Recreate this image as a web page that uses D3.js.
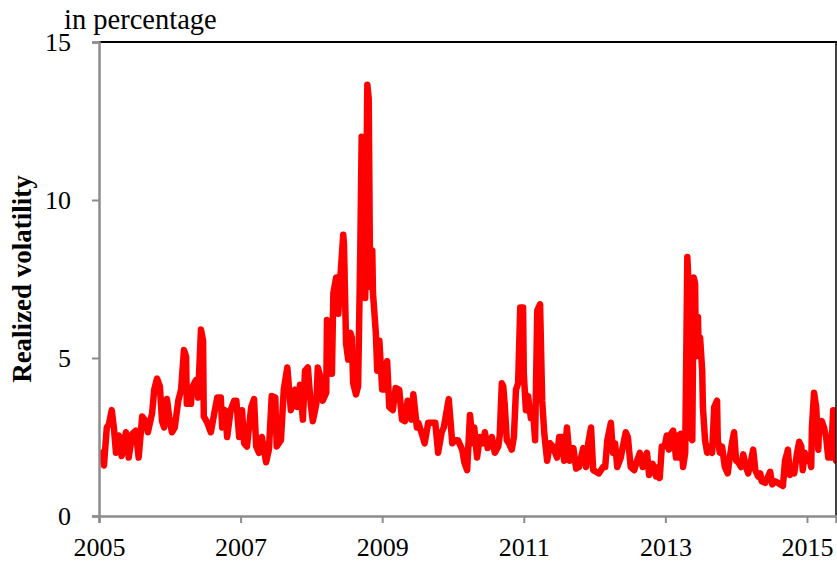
<!DOCTYPE html>
<html>
<head>
<meta charset="utf-8">
<script src="https://cdn.jsdelivr.net/npm/d3@7"></script>
<style>
  html, body { margin: 0; padding: 0; background: #fff; }
  svg { display: block; }
  text { font-family: "Liberation Serif", "Times New Roman", serif; fill: #000; }
</style>
</head>
<body>
<svg id="chart" width="837" height="563"></svg>
<script>
// Realized volatility, in percent, sampled on decimal-year dates
const dates = [
  2005.04, 2005.07, 2005.11, 2005.14, 2005.18, 2005.21, 2005.24, 2005.28, 2005.32, 2005.38,
  2005.42, 2005.47, 2005.52, 2005.56, 2005.61, 2005.66, 2005.69, 2005.75, 2005.78, 2005.82,
  2005.86, 2005.89, 2005.92, 2005.96, 2005.99, 2006.03, 2006.07, 2006.12, 2006.16, 2006.20,
  2006.23, 2006.24, 2006.30, 2006.31, 2006.37, 2006.40, 2006.44, 2006.47, 2006.48, 2006.53,
  2006.58, 2006.62, 2006.67, 2006.72, 2006.74, 2006.78, 2006.81, 2006.86, 2006.91, 2006.94,
  2006.98, 2007.02, 2007.05, 2007.09, 2007.15, 2007.19, 2007.22, 2007.26, 2007.30, 2007.36,
  2007.40, 2007.44, 2007.49, 2007.51, 2007.57, 2007.61, 2007.66, 2007.71, 2007.77, 2007.80,
  2007.84, 2007.88, 2007.91, 2007.95, 2007.99, 2008.02, 2008.07, 2008.09, 2008.14, 2008.16,
  2008.21, 2008.22, 2008.25, 2008.29, 2008.31, 2008.35, 2008.38, 2008.40, 2008.45, 2008.46,
  2008.49, 2008.52, 2008.55, 2008.57, 2008.59, 2008.63, 2008.66, 2008.69, 2008.71, 2008.73,
  2008.76, 2008.79, 2008.81, 2008.83, 2008.86, 2008.87, 2008.91, 2008.93, 2008.96, 2009.00,
  2009.03, 2009.07, 2009.10, 2009.15, 2009.19, 2009.24, 2009.28, 2009.32, 2009.36, 2009.41,
  2009.44, 2009.49, 2009.51, 2009.56, 2009.60, 2009.65, 2009.70, 2009.75, 2009.79, 2009.84,
  2009.87, 2009.92, 2009.94, 2009.99, 2010.03, 2010.07, 2010.13, 2010.16, 2010.20, 2010.24,
  2010.28, 2010.30, 2010.34, 2010.38, 2010.42, 2010.45, 2010.49, 2010.55, 2010.59, 2010.64,
  2010.66, 2010.69, 2010.71, 2010.73, 2010.76, 2010.79, 2010.83, 2010.86, 2010.89, 2010.92,
  2010.95, 2010.99, 2011.00, 2011.03, 2011.06, 2011.10, 2011.13, 2011.16, 2011.19, 2011.23,
  2011.26, 2011.29, 2011.33, 2011.37, 2011.41, 2011.47, 2011.50, 2011.54, 2011.57, 2011.61,
  2011.65, 2011.70, 2011.74, 2011.78, 2011.84, 2011.88, 2011.91, 2011.95, 2011.98, 2012.02,
  2012.06, 2012.12, 2012.15, 2012.18, 2012.23, 2012.26, 2012.29, 2012.32, 2012.37, 2012.40,
  2012.44, 2012.47, 2012.51, 2012.56, 2012.60, 2012.64, 2012.68, 2012.74, 2012.77, 2012.82,
  2012.87, 2012.90, 2012.92, 2012.95, 2012.99, 2013.02, 2013.05, 2013.08, 2013.11, 2013.15,
  2013.18, 2013.19, 2013.22, 2013.25, 2013.28, 2013.31, 2013.32, 2013.35, 2013.38, 2013.40,
  2013.42, 2013.43, 2013.46, 2013.47, 2013.49, 2013.52, 2013.53, 2013.56, 2013.59, 2013.63,
  2013.66, 2013.69, 2013.73, 2013.74, 2013.77, 2013.80, 2013.84, 2013.88, 2013.91, 2013.94,
  2013.97, 2014.00, 2014.03, 2014.07, 2014.10, 2014.14, 2014.17, 2014.21, 2014.24, 2014.27,
  2014.31, 2014.34, 2014.36, 2014.41, 2014.45, 2014.48, 2014.51, 2014.55, 2014.59, 2014.62,
  2014.66, 2014.69, 2014.72, 2014.73, 2014.76, 2014.79, 2014.82, 2014.86, 2014.89, 2014.92,
  2014.94, 2014.97, 2015.00, 2015.03, 2015.06, 2015.07, 2015.10, 2015.13, 2015.16, 2015.17,
  2015.21, 2015.24, 2015.27, 2015.30, 2015.33, 2015.34, 2015.37, 2015.38, 2015.41
];

const volatility = [
  2.0, 1.6, 2.8, 2.9, 3.35, 2.8, 2.0, 2.55, 1.9, 2.65,
  1.85, 2.6, 2.7, 1.85, 3.15, 3.0, 2.65, 3.25, 4.0, 4.35,
  4.1, 3.0, 2.8, 3.7, 3.15, 2.65, 2.8, 3.65, 4.0, 5.25,
  5.05, 3.55, 3.55, 4.05, 4.3, 3.75, 5.9, 5.55, 3.15, 2.95,
  2.65, 3.15, 3.75, 3.75, 2.8, 3.35, 2.5, 3.35, 3.65, 3.65,
  2.5, 3.35, 2.3, 2.2, 3.45, 3.7, 2.2, 2.0, 2.5, 1.7,
  2.1, 3.8, 3.75, 2.2, 2.4, 4.0, 4.7, 3.35, 4.0, 3.45,
  4.15, 3.05, 4.6, 4.7, 3.55, 3.0, 3.55, 4.7, 4.3, 3.65,
  3.9, 6.2, 6.1, 4.5, 7.05, 7.55, 6.4, 7.25, 8.9, 8.6,
  5.45, 4.95, 5.8, 5.65, 4.2, 3.85, 4.1, 8.3, 12.0, 11.9,
  6.9, 13.65, 13.2, 7.25, 8.4, 7.05, 5.8, 4.6, 5.55, 4.0,
  4.0, 4.9, 3.45, 3.35, 4.05, 4.0, 3.05, 3.0, 3.65, 3.05,
  3.85, 2.8, 2.95, 2.6, 2.3, 2.95, 2.95, 2.95, 2.0, 2.65,
  2.8, 3.45, 3.7, 2.3, 2.4, 2.4, 2.1, 1.7, 1.45, 3.2,
  2.3, 2.8, 1.85, 2.5, 2.3, 2.65, 2.15, 2.5, 2.0, 2.2,
  2.55, 4.2, 4.1, 3.55, 2.4, 2.3, 2.1, 2.5, 4.0, 4.2,
  6.6, 6.6, 4.5, 3.35, 3.8, 3.1, 3.35, 2.4, 6.5, 6.7,
  3.65, 2.6, 1.75, 2.3, 2.2, 1.85, 2.5, 2.5, 1.75, 2.8,
  1.75, 2.15, 1.5, 1.55, 2.15, 1.55, 2.3, 2.8, 1.45, 1.4,
  1.35, 1.55, 1.55, 2.4, 2.95, 2.0, 2.3, 1.55, 1.85, 2.2,
  2.65, 2.5, 1.55, 1.45, 1.75, 2.0, 1.55, 2.0, 1.3, 1.65,
  1.25, 1.55, 1.2, 2.2, 2.2, 2.55, 2.1, 2.6, 2.7, 1.85,
  2.55, 1.85, 2.6, 1.55, 2.0, 8.2, 7.7, 2.5, 2.4, 7.55,
  7.35, 5.05, 6.3, 5.25, 5.65, 4.6, 3.45, 2.4, 2.0, 2.2,
  2.0, 3.45, 3.65, 2.4, 2.0, 2.2, 1.55, 1.35, 1.85, 2.3,
  2.65, 1.75, 1.7, 1.55, 1.95, 1.55, 1.35, 1.75, 2.1, 1.45,
  1.25, 1.35, 1.1, 1.05, 1.25, 1.4, 1.0, 1.1, 1.05, 1.0,
  0.95, 1.75, 2.0, 2.1, 1.3, 1.55, 1.35, 2.0, 2.35, 2.2,
  1.45, 2.0, 1.75, 1.85, 1.55, 2.8, 3.9, 3.45, 2.1, 2.8,
  3.0, 2.8, 2.5, 1.85, 2.4, 1.85, 3.35, 3.35, 1.75
];

const yTicks = [0, 5, 10, 15];
const xTicks = [2005, 2007, 2009, 2011, 2013, 2015];
const yTitle = "Realized volatility";
const unitNote = "in percentage";

const svg = d3.select("#chart");
const plot = { left: 99, right: 836, top: 42, bottom: 516 };

const x = d3.scaleLinear().domain([2005, 2015.41]).range([plot.left, plot.right]);
const y = d3.scaleLinear().domain([0, 15]).range([plot.bottom, plot.top]);

svg.append("defs").append("clipPath").attr("id", "plot-clip")
  .append("rect")
  .attr("x", plot.left).attr("y", plot.top - 10)
  .attr("width", plot.right - plot.left).attr("height", plot.bottom - plot.top + 10);

// Series line
const series = dates.map((d, i) => ({ t: d, v: volatility[i] }));
const line = d3.line().x(d => x(d.t)).y(d => y(d.v));

svg.append("path")
  .datum(series)
  .attr("clip-path", "url(#plot-clip)")
  .attr("d", line)
  .attr("fill", "none")
  .attr("stroke", "#ff0000")
  .attr("stroke-width", 6.5)
  .attr("stroke-linejoin", "round")
  .attr("stroke-linecap", "round");

// Top and right frame
svg.append("line")
  .attr("x1", plot.left).attr("x2", plot.right + 1)
  .attr("y1", plot.top).attr("y2", plot.top)
  .attr("stroke", "#000").attr("stroke-width", 2);
svg.append("line")
  .attr("x1", plot.right).attr("x2", plot.right)
  .attr("y1", plot.top).attr("y2", plot.bottom)
  .attr("stroke", "#000").attr("stroke-width", 1.5);

// Axes
const axisColor = "#8c8c8c";

const yAxis = svg.append("g")
  .attr("transform", `translate(${plot.left},0)`)
  .call(d3.axisLeft(y).tickValues(yTicks).tickSize(7).tickPadding(21).tickFormat(d3.format("d")));

const xAxis = svg.append("g")
  .attr("transform", `translate(0,${plot.bottom})`)
  .call(d3.axisBottom(x).tickValues(xTicks).tickSize(7).tickFormat(d3.format("d")));

[yAxis, xAxis].forEach(g => {
  g.select(".domain").attr("stroke", axisColor).attr("stroke-width", 2.5);
  g.selectAll(".tick line").attr("stroke", axisColor).attr("stroke-width", 2);
  g.selectAll(".tick text")
    .attr("font-family", "Liberation Serif, Times New Roman, serif")
    .attr("font-size", 26)
    .attr("fill", "#000");
});
xAxis.selectAll(".tick text").attr("y", 40).attr("dy", 0);

// Titles
svg.append("text")
  .attr("transform", `translate(31,${(plot.top + plot.bottom) / 2}) rotate(-90)`)
  .attr("text-anchor", "middle")
  .attr("font-size", 27)
  .attr("font-weight", "bold")
  .text(yTitle);

svg.append("text")
  .attr("x", 64)
  .attr("y", 29)
  .attr("font-size", 28.5)
  .text(unitNote);
</script>
</body>
</html>
